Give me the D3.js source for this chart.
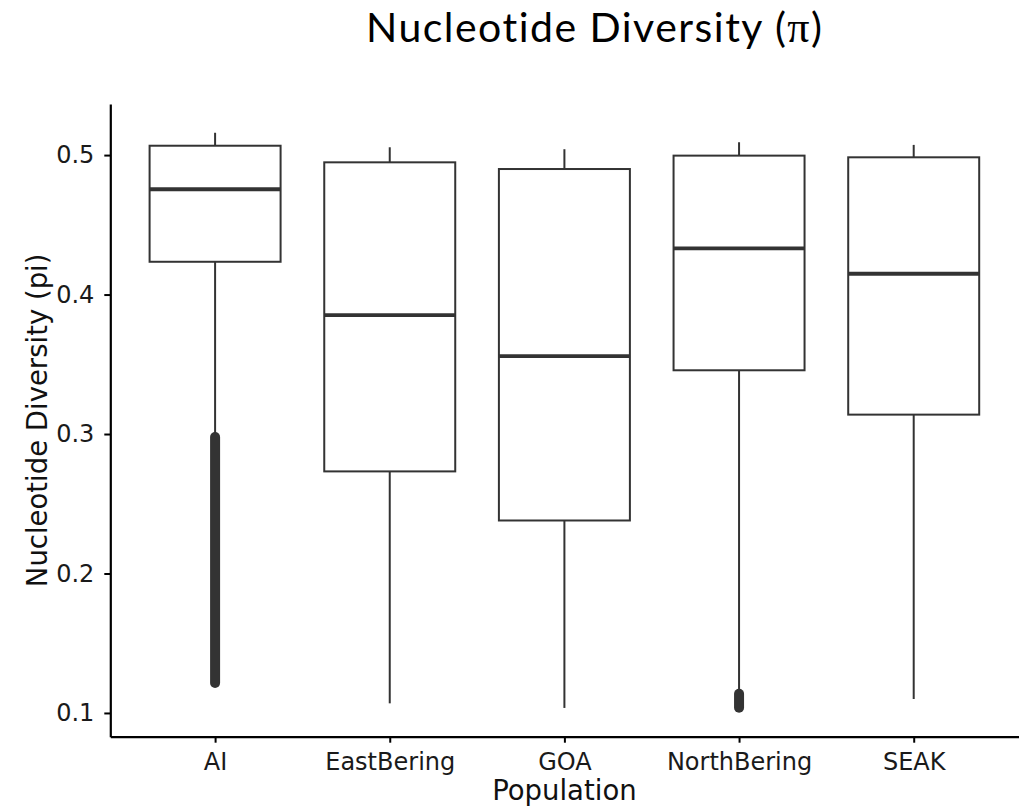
<!DOCTYPE html>
<html>
<head>
<meta charset="utf-8">
<script src="https://cdn.jsdelivr.net/npm/d3@7"></script>
<style>
  html, body { margin: 0; padding: 0; background: #ffffff; }
  svg { display: block; }
</style>
</head>
<body>
<script>
// Box-plot summaries of nucleotide diversity per population
const populations = ["AI", "EastBering", "GOA", "NorthBering", "SEAK"];
const whiskerLow  = [0.2995, 0.1069, 0.1036, 0.1160, 0.1100];
const q1          = [0.4235, 0.2732, 0.2380, 0.3457, 0.3139];
const medians     = [0.4755, 0.3852, 0.3558, 0.4331, 0.4149];
const q3          = [0.5067, 0.4948, 0.4900, 0.4996, 0.4984];
const whiskerHigh = [0.5160, 0.5056, 0.5042, 0.5092, 0.5073];
// Outliers are so dense they form a continuous band: lowest and highest outlier
const outlierLow  = [0.1215, null, null, 0.1037, null];
const outlierHigh = [0.2979, null, null, 0.1137, null];
const yTicks = [0.1, 0.2, 0.3, 0.4, 0.5];

const W = 1028, H = 807;
const panel = { left: 110.3, right: 1018.5, top: 104, bottom: 736.7 };
const ink = "#333333";

const svg = d3.select("body").append("svg")
  .attr("width", W).attr("height", H);

const rows = populations.map((p, i) => ({
  pop: p, lo: whiskerLow[i], q1: q1[i], med: medians[i], q3: q3[i], hi: whiskerHigh[i],
  oLo: outlierLow[i], oHi: outlierHigh[i]
}));

// y domain: data extent with 5% expansion on each side
const allVals = rows.flatMap(r => [r.lo, r.hi, r.oLo, r.oHi]).filter(v => v != null);
const [vmin, vmax] = d3.extent(allVals);
const padV = (vmax - vmin) * 0.05;
const y = d3.scaleLinear().domain([vmin - padV, vmax + padV]).range([panel.bottom, panel.top]);

const x = d3.scalePoint().domain(populations).range([panel.left, panel.right]).padding(0.6);
const boxW = x.step() * 0.75;

const g = svg.append("g");

// whiskers
g.selectAll("line.whisker-lo").data(rows).join("line")
  .attr("x1", d => x(d.pop)).attr("x2", d => x(d.pop))
  .attr("y1", d => y(d.q1)).attr("y2", d => y(d.lo))
  .attr("stroke", ink).attr("stroke-width", 2);
g.selectAll("line.whisker-hi").data(rows).join("line")
  .attr("x1", d => x(d.pop)).attr("x2", d => x(d.pop))
  .attr("y1", d => y(d.q3)).attr("y2", d => y(d.hi))
  .attr("stroke", ink).attr("stroke-width", 2);

// outlier bands (overlapping points, 10px diameter)
g.selectAll("line.outliers").data(rows.filter(r => r.oLo != null)).join("line")
  .attr("x1", d => x(d.pop)).attr("x2", d => x(d.pop))
  .attr("y1", d => y(d.oHi)).attr("y2", d => y(d.oLo))
  .attr("stroke", ink).attr("stroke-width", 10).attr("stroke-linecap", "round");

// boxes
g.selectAll("rect.box").data(rows).join("rect")
  .attr("x", d => x(d.pop) - boxW / 2).attr("width", boxW)
  .attr("y", d => y(d.q3)).attr("height", d => y(d.q1) - y(d.q3))
  .attr("fill", "#ffffff").attr("stroke", ink).attr("stroke-width", 2);

// medians
g.selectAll("line.median").data(rows).join("line")
  .attr("x1", d => x(d.pop) - boxW / 2).attr("x2", d => x(d.pop) + boxW / 2)
  .attr("y1", d => y(d.med)).attr("y2", d => y(d.med))
  .attr("stroke", ink).attr("stroke-width", 3.8);

// axes
const tickFont = "'DejaVu Sans', sans-serif";
const yAxis = svg.append("g").attr("transform", `translate(${panel.left},0)`)
  .call(d3.axisLeft(y).tickValues(yTicks).tickFormat(d3.format(".1f"))
    .tickSize(6).tickSizeOuter(0).tickPadding(10));
const xAxis = svg.append("g").attr("transform", `translate(0,${panel.bottom})`)
  .call(d3.axisBottom(x).tickSize(6).tickSizeOuter(0).tickPadding(8));

[yAxis, xAxis].forEach(a => {
  a.select(".domain").attr("stroke", "#000").attr("stroke-width", 2.2);
  a.selectAll(".tick line").attr("stroke", "#000").attr("stroke-width", 2);
  a.selectAll(".tick text").attr("fill", "#1a1a1a")
    .style("font-family", tickFont).style("font-size", "24px");
});
xAxis.selectAll(".tick text").attr("dy", "0.8em");

// axis titles
svg.append("text")
  .attr("x", (panel.left + panel.right) / 2).attr("y", 800)
  .attr("text-anchor", "middle")
  .style("font-family", tickFont).style("font-size", "27.5px").attr("fill", "#111")
  .text("Population");

svg.append("text")
  .attr("transform", `translate(47,${(panel.top + panel.bottom) / 2}) rotate(-90)`)
  .attr("text-anchor", "middle")
  .style("font-family", tickFont).style("font-size", "27.5px").attr("fill", "#111")
  .text("Nucleotide Diversity (pi)");

// chart title
const title = svg.append("text")
  .attr("x", 366).attr("y", 42)
  .style("font-family", "Lato, 'Open Sans', sans-serif").style("font-size", "41px")
  .style("font-variant-ligatures", "none")
  .attr("fill", "#000");
title.append("tspan").text("Nucleotide Diversity (");
title.append("tspan").style("font-family", "'Liberation Serif', 'DejaVu Serif', serif")
  .style("font-size", "44px").text("π");
title.append("tspan").text(")");
// spread letters so the title spans its full width
const targetW = 456;
const nChars = "Nucleotide Diversity (π)".length;
const w0 = title.node().getComputedTextLength();
title.style("letter-spacing", Math.max(0, (targetW - w0) / (nChars - 1)) + "px");
</script>
</body>
</html>
